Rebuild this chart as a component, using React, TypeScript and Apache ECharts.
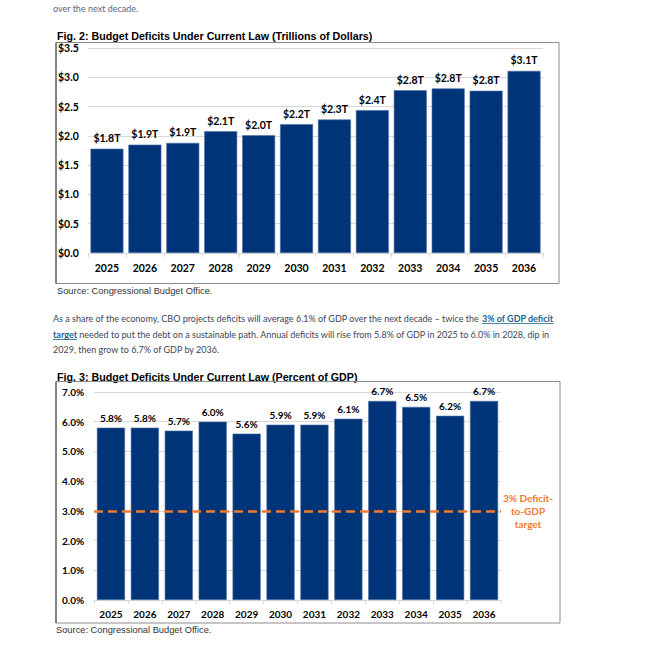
import React, { useEffect, useRef } from "react";
import * as echarts from "echarts";

const years = ["2025", "2026", "2027", "2028", "2029", "2030", "2031", "2032", "2033", "2034", "2035", "2036"];
const deficitsTrillions = [1.78, 1.85, 1.88, 2.08, 2.01, 2.2, 2.28, 2.44, 2.78, 2.81, 2.77, 3.11];
const deficitLabels = ["$1.8T", "$1.9T", "$1.9T", "$2.1T", "$2.0T", "$2.2T", "$2.3T", "$2.4T", "$2.8T", "$2.8T", "$2.8T", "$3.1T"];
const deficitsPctGdp = [5.8, 5.8, 5.7, 6.0, 5.6, 5.9, 5.9, 6.1, 6.7, 6.5, 6.2, 6.7];
const targetPct = 3;
const targetLabel = "3% Deficit-\nto-GDP\ntarget";

const fig2Title = "Fig. 2: Budget Deficits Under Current Law (Trillions of Dollars)";
const fig3Title = "Fig. 3: Budget Deficits Under Current Law (Percent of GDP)";
const sourceText = "Source: Congressional Budget Office.";
const topLine = "over the next decade.";
const para1a = "As a share of the economy, CBO projects deficits will average 6.1% of GDP over the next decade \u2013 twice the ";
const paraLink1 = "3% of GDP deficit";
const paraLink2 = "target";
const para2b = " needed to put the debt on a sustainable path. Annual deficits will rise from 5.8% of GDP in 2025 to 6.0% in 2028, dip in";
const para3 = "2029, then grow to 6.7% of GDP by 2036.";

const BAR = "#003478";
const ORANGE = "#EE7B30";
const GRID = "#d9d9d9";
const TEXT_C = "#3c4657";
const LINK_C = "#1d5f8e";

function measure(text: string, font: string): number {
  const c = document.createElement("canvas").getContext("2d");
  if (!c) return text.length * 4;
  c.font = font;
  return c.measureText(text).width;
}

export default function App() {
  const ref = useRef<HTMLDivElement>(null);
  useEffect(() => {
    if (!ref.current) return;
    const chart = echarts.init(ref.current, undefined, { renderer: "svg" });
    const pFont = "9px Lato";
    const lFont = "bold 9px Lato";
    const px = 53;
    const w1a = measure(para1a, pFont);
    const wl1 = measure(paraLink1, lFont);
    const wl2 = measure(paraLink2, lFont);

    const labelFont = { fontFamily: "Lato", fontWeight: "bold" as const, color: "#000" };

    const txt = (x: number, y: number, text: string, font: string, fill: string, align = "left") => ({
      type: "text",
      x,
      y,
      style: { text, font, fill, textAlign: align, textVerticalAlign: "middle" },
    });

    chart.setOption({
      animation: false,
      grid: [
        { left: 88, right: 122, top: 48, bottom: 399 },
        { left: 94, right: 164, top: 392, bottom: 52 },
      ],
      xAxis: [
        {
          type: "category",
          gridIndex: 0,
          data: years,
          axisLine: { lineStyle: { color: GRID } },
          axisTick: { show: true, length: 4, lineStyle: { color: GRID } },
          axisLabel: { ...labelFont, fontSize: 10.5, margin: 9 },
        },
        {
          type: "category",
          gridIndex: 1,
          data: years,
          axisLine: { lineStyle: { color: GRID } },
          axisTick: { show: true, length: 4, lineStyle: { color: GRID } },
          axisLabel: { ...labelFont, fontSize: 10, margin: 9 },
        },
      ],
      yAxis: [
        {
          type: "value",
          gridIndex: 0,
          min: 0,
          max: 3.5,
          interval: 0.5,
          axisLine: { show: false },
          axisTick: { show: false },
          splitLine: { lineStyle: { color: GRID } },
          axisLabel: { ...labelFont, fontSize: 10.5, align: "left", margin: 30, formatter: (v: number) => "$" + v.toFixed(1) },
        },
        {
          type: "value",
          gridIndex: 1,
          min: 0,
          max: 7,
          interval: 1,
          axisLine: { show: false },
          axisTick: { show: false },
          splitLine: { lineStyle: { color: GRID } },
          axisLabel: { ...labelFont, fontSize: 10, align: "left", margin: 32, formatter: (v: number) => v.toFixed(1) + "%" },
        },
      ],
      series: [
        {
          type: "bar",
          xAxisIndex: 0,
          yAxisIndex: 0,
          data: deficitsTrillions,
          barCategoryGap: "13%",
          itemStyle: { color: BAR, borderColor: "#4d72aa", borderWidth: 0.6 },
          label: {
            show: true,
            position: "top",
            distance: 5,
            ...labelFont,
            fontSize: 10.5,
            formatter: (p: any) => deficitLabels[p.dataIndex],
          },
        },
        {
          type: "bar",
          xAxisIndex: 1,
          yAxisIndex: 1,
          data: deficitsPctGdp,
          barCategoryGap: "17%",
          itemStyle: { color: BAR, borderColor: "#4d72aa", borderWidth: 0.6 },
          label: {
            show: true,
            position: "top",
            distance: 5,
            ...labelFont,
            fontSize: 10,
            formatter: (p: any) => (p.value as number).toFixed(1) + "%",
          },
          markLine: {
            silent: true,
            symbol: ["none", "none"],
            label: { show: false },
            lineStyle: { color: ORANGE, width: 2.5, type: [9, 5] },
            data: [{ yAxis: targetPct }],
          },
        },
      ],
      graphic: [
        txt(px, 8, topLine, pFont, "#5b6478"),
        txt(57, 36, fig2Title, "bold 10.7px 'Liberation Sans', Arial", "#000"),
        { type: "rect", shape: { x: 56, y: 42.5, width: 503, height: 241 }, style: { fill: "none", stroke: "#8c8c8c", lineWidth: 1 } },
        { type: "line", shape: { x1: 56, y1: 42.5, x2: 56, y2: 283.5 }, style: { stroke: "#404040", lineWidth: 1 } },
        txt(57, 291, sourceText, "9.3px 'Liberation Sans', Arial", "#333"),
        txt(px, 318, para1a, pFont, TEXT_C),
        txt(px + w1a, 318, paraLink1, lFont, LINK_C),
        { type: "rect", shape: { x: px + w1a, y: 323, width: wl1, height: 0.8 }, style: { fill: LINK_C } },
        txt(px, 334, paraLink2, lFont, LINK_C),
        { type: "rect", shape: { x: px, y: 339, width: wl2, height: 0.8 }, style: { fill: LINK_C } },
        txt(px + wl2, 334, para2b, pFont, TEXT_C),
        txt(px, 349, para3, pFont, TEXT_C),
        txt(57, 377, fig3Title, "bold 10.7px 'Liberation Sans', Arial", "#000"),
        { type: "rect", shape: { x: 56, y: 381.5, width: 504, height: 241.5 }, style: { fill: "none", stroke: "#8c8c8c", lineWidth: 1 } },
        { type: "line", shape: { x1: 56, y1: 381.5, x2: 56, y2: 623 }, style: { stroke: "#404040", lineWidth: 1 } },
        {
          type: "text",
          x: 528,
          y: 511,
          style: { text: targetLabel, font: "bold 10px Lato", fill: ORANGE, textAlign: "center", textVerticalAlign: "middle", lineHeight: 13 },
        },
        txt(56, 630, sourceText, "9.3px 'Liberation Sans', Arial", "#333"),
      ],
    });
    return () => chart.dispose();
  }, []);
  return <div ref={ref} style={{ position: "fixed", left: 0, top: 0, width: 665, height: 652, background: "#fff" }} />;
}
